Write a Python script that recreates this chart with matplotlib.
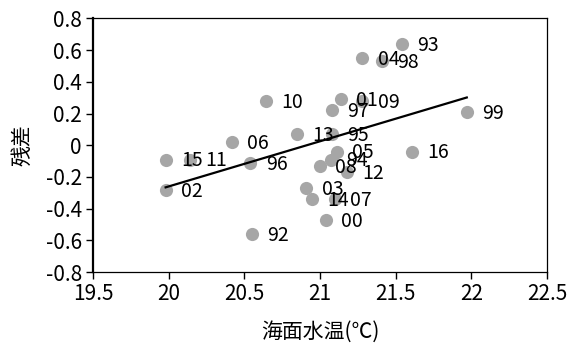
import numpy as np
import matplotlib
matplotlib.use("Agg")
import matplotlib.pyplot as plt
from matplotlib.ticker import FormatStrFormatter, FuncFormatter

plt.rcParams['font.family'] = ['Noto Sans CJK JP', 'DejaVu Sans']
plt.rcParams['axes.unicode_minus'] = False

# sea surface temperature vs. residual, one point per year
years = ['92', '93', '94', '95', '96', '97', '98', '99', '00', '01', '02', '03', '04',
         '05', '06', '07', '08', '09', '10', '11', '12', '13', '14', '15', '16']
sst = [20.55, 21.54, 21.07, 21.08, 20.54, 21.08, 21.41, 21.97, 21.04, 21.14, 19.98, 20.91, 21.28,
       21.11, 20.42, 21.10, 21.00, 21.28, 20.64, 20.14, 21.18, 20.85, 20.95, 19.98, 21.61]
resid = [-0.56, 0.64, -0.09, 0.07, -0.11, 0.22, 0.53, 0.21, -0.47, 0.29, -0.28, -0.27, 0.55,
         -0.04, 0.02, -0.34, -0.13, 0.28, 0.28, -0.09, -0.17, 0.07, -0.34, -0.09, -0.04]

# regression line (intercept, slope)
fit_coef = [-5.96, 0.285]

fig = plt.figure(figsize=(5.68, 3.49), dpi=100)
ax = fig.add_axes([0.1637, 0.2206, 0.7993, 0.7264])

ax.scatter(sst, resid, s=90, color='#a6a6a6', zorder=2, linewidths=0)

x_line = np.array([min(sst), max(sst)])
ax.plot(x_line, fit_coef[0] + fit_coef[1] * x_line, color='black', lw=1.6, zorder=3)

for yr, x, y in zip(years, sst, resid):
    ax.annotate(yr, (x, y), xytext=(11, -1), textcoords='offset points',
                ha='left', va='center', fontsize=14, zorder=4)

ax.set_xlim(19.5, 22.5)
ax.set_ylim(-0.8, 0.8)
ax.set_xticks(np.arange(19.5, 22.51, 0.5))
ax.set_yticks(np.arange(-0.8, 0.81, 0.2))
ax.xaxis.set_major_formatter(FormatStrFormatter('%g'))
ax.yaxis.set_major_formatter(FuncFormatter(lambda v, p: '0' if abs(v) < 1e-9 else '%.1f' % v))
ax.tick_params(axis='both', direction='out', length=5, width=1, labelsize=15, pad=3)

ax.set_xlabel('海面水温(℃)', fontsize=15, labelpad=11)
ax.set_ylabel('残差', fontsize=15, labelpad=9)

ax.spines['left'].set_linewidth(1.6)
for side in ('top', 'right', 'bottom'):
    ax.spines[side].set_linewidth(0.9)

fig.savefig('out.png', dpi=100)
